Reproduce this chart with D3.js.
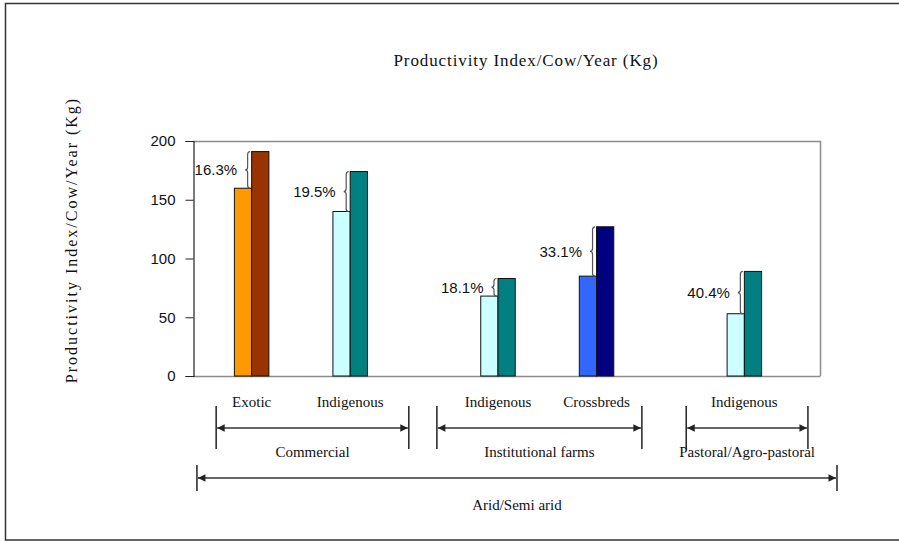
<!DOCTYPE html>
<html>
<head>
<meta charset="utf-8">
<script src="https://cdn.jsdelivr.net/npm/d3@7/dist/d3.min.js"></script>
<style>
  html, body { margin: 0; padding: 0; background: #fff; }
  svg { display: block; }
  .serif { font-family: "Liberation Serif", "Times New Roman", serif; fill: #111; }
  .sans { font-family: "Liberation Sans", Arial, sans-serif; fill: #111; }
</style>
</head>
<body>
<svg id="chart" width="899" height="542"></svg>
<script>
// Category slots along the x axis (blank slots separate the production systems)
const slots = ["Exotic", "", "Indigenous", "", "", "Indigenous", "", "Crossbreds", "", "", "Indigenous"];
// Slot index of each bar pair
const groupSlots = [0, 2, 5, 7, 10];
// Productivity index (kg/cow/year): current level and potential level
const baseValues = [159.8, 140, 68, 85, 53];
const topValues = [191, 174, 83, 127, 89];
// Fill colours of each pair (lower bar, higher bar)
const baseColors = ["#FF9900", "#CCFFFF", "#CCFFFF", "#3366FF", "#CCFFFF"];
const topColors = ["#993300", "#008080", "#008080", "#000080", "#008080"];
// Y axis ticks
const yTicks = [0, 50, 100, 150, 200];
// Production system spans, in slot units
const brackets = [
  { label: "Commercial", from: -0.72, to: 3.19, row: 0 },
  { label: "Institutional farms", from: 3.76, to: 7.92, row: 0 },
  { label: "Pastoral/Agro-pastoral", from: 8.82, to: 11.29, row: 0 },
  { label: "Arid/Semi arid", from: -1.11, to: 11.88, row: 1 }
];
const title = "Productivity Index/Cow/Year (Kg)";
const yTitle = "Productivity Index/Cow/Year (Kg)";

const svg = d3.select("#chart");
const plot = { left: 193, right: 820, top: 141, bottom: 376 };

// outer frame
svg.append("rect")
  .attr("x", 5.5).attr("y", 3.5).attr("width", 910).attr("height", 536.5)
  .attr("fill", "none").attr("stroke", "#333").attr("stroke-width", 1.5);

const y = d3.scaleLinear().domain([0, 200]).range([plot.bottom, plot.top]);
const x = d3.scaleBand().domain(d3.range(slots.length))
  .range([plot.left + 34, plot.right - 51]);
const bw = x.bandwidth();
const slotX = d3.scaleLinear().domain([0, slots.length - 1])
  .range([x(0) + bw / 2, x(slots.length - 1) + bw / 2]);
const barW = bw * 0.35;

// plot frame: top and right edges
svg.append("path")
  .attr("d", `M${plot.left},${plot.top + 0.5}H${plot.right + 0.5}V${plot.bottom}`)
  .attr("fill", "none").attr("stroke", "#8c8c8c").attr("stroke-width", 1.5);
// category axis line
svg.append("line")
  .attr("x1", plot.left).attr("x2", plot.right + 0.5)
  .attr("y1", plot.bottom + 0.5).attr("y2", plot.bottom + 0.5)
  .attr("stroke", "#8c8c8c").attr("stroke-width", 1.5);

// value axis
const yAxis = svg.append("g")
  .attr("transform", `translate(${plot.left + 0.5},0)`)
  .call(d3.axisLeft(y).tickValues(yTicks).tickSize(8).tickPadding(10));
yAxis.select(".domain").attr("stroke", "#222").attr("stroke-width", 1.2);
yAxis.selectAll(".tick line").attr("stroke", "#222");
yAxis.selectAll(".tick text")
  .attr("class", "sans").style("font-size", "15px")
  .attr("font-family", null).attr("fill", "#111");

// bars
const pairs = groupSlots.map((s, i) => ({
  slot: s, lo: baseValues[i], hi: topValues[i], c1: baseColors[i], c2: topColors[i]
}));
const g = svg.append("g");
pairs.forEach(p => {
  const cx = slotX(p.slot);
  g.append("rect")
    .attr("x", cx - barW).attr("width", barW)
    .attr("y", y(p.lo)).attr("height", y(0) - y(p.lo))
    .attr("fill", p.c1).attr("stroke", "#111").attr("stroke-width", 1);
  g.append("rect")
    .attr("x", cx).attr("width", barW)
    .attr("y", y(p.hi)).attr("height", y(0) - y(p.hi))
    .attr("fill", p.c2).attr("stroke", "#111").attr("stroke-width", 1);

  // curly brace showing the gap between the two levels
  const bx = cx - 1.5, w = 5, y1 = y(p.hi), y2 = y(p.lo), mid = (y1 + y2) / 2, r = 3;
  const hx = bx - w / 2;
  g.append("path")
    .attr("d", `M${bx},${y1} Q${hx},${y1} ${hx},${y1 + r} L${hx},${mid - r} Q${hx},${mid} ${bx - w},${mid}` +
      ` Q${hx},${mid} ${hx},${mid + r} L${hx},${y2 - r} Q${hx},${y2} ${bx},${y2}`)
    .attr("fill", "none").attr("stroke", "#555").attr("stroke-width", 1.2);

  g.append("text").attr("class", "sans")
    .attr("x", bx - w - 8).attr("y", mid).attr("dy", "0.35em")
    .attr("text-anchor", "end").style("font-size", "15px")
    .text(d3.format(".1%")((p.hi - p.lo) / p.hi));
});

// category labels
svg.append("g").selectAll("text")
  .data(groupSlots).join("text")
  .attr("class", "serif")
  .attr("x", s => slotX(s)).attr("y", 407)
  .attr("text-anchor", "middle").style("font-size", "15px")
  .text(s => slots[s]);

// arrow markers
const defs = svg.append("defs");
["start", "end"].forEach(k => {
  defs.append("marker")
    .attr("id", "arr-" + k).attr("viewBox", "0 0 10 10")
    .attr("refX", 10).attr("refY", 5)
    .attr("markerWidth", 6).attr("markerHeight", 5)
    .attr("markerUnits", "strokeWidth")
    .attr("orient", k === "end" ? "auto" : "auto-start-reverse")
    .append("path").attr("d", "M0,0L10,5L0,10Z").attr("fill", "#222");
});

// production system spans
const rows = [
  { arrowY: 428, tickTop: 406, tickBot: 449, labelY: 457 },
  { arrowY: 478, tickTop: 465, tickBot: 491, labelY: 510 }
];
brackets.forEach(b => {
  const r = rows[b.row];
  const x1 = slotX(b.from), x2 = slotX(b.to);
  const bg = svg.append("g");
  [x1, x2].forEach(xx => bg.append("line")
    .attr("x1", xx).attr("x2", xx).attr("y1", r.tickTop).attr("y2", r.tickBot)
    .attr("stroke", "#222").attr("stroke-width", 1.5));
  bg.append("line")
    .attr("x1", x1 + 1).attr("x2", x2 - 1).attr("y1", r.arrowY).attr("y2", r.arrowY)
    .attr("stroke", "#333").attr("stroke-width", 1.5)
    .attr("marker-start", "url(#arr-start)").attr("marker-end", "url(#arr-end)");
  bg.append("text").attr("class", "serif")
    .attr("x", (x1 + x2) / 2).attr("y", r.labelY)
    .attr("text-anchor", "middle").style("font-size", "15px")
    .text(b.label);
});

// titles
svg.append("text").attr("class", "serif")
  .attr("x", 526).attr("y", 66).attr("text-anchor", "middle")
  .style("font-size", "17px").style("letter-spacing", "0.9px")
  .text(title);
svg.append("text").attr("class", "serif")
  .attr("transform", "translate(77,240) rotate(-90)")
  .attr("text-anchor", "middle")
  .style("font-size", "16px").style("letter-spacing", "2px")
  .text(yTitle);
</script>
</body>
</html>
